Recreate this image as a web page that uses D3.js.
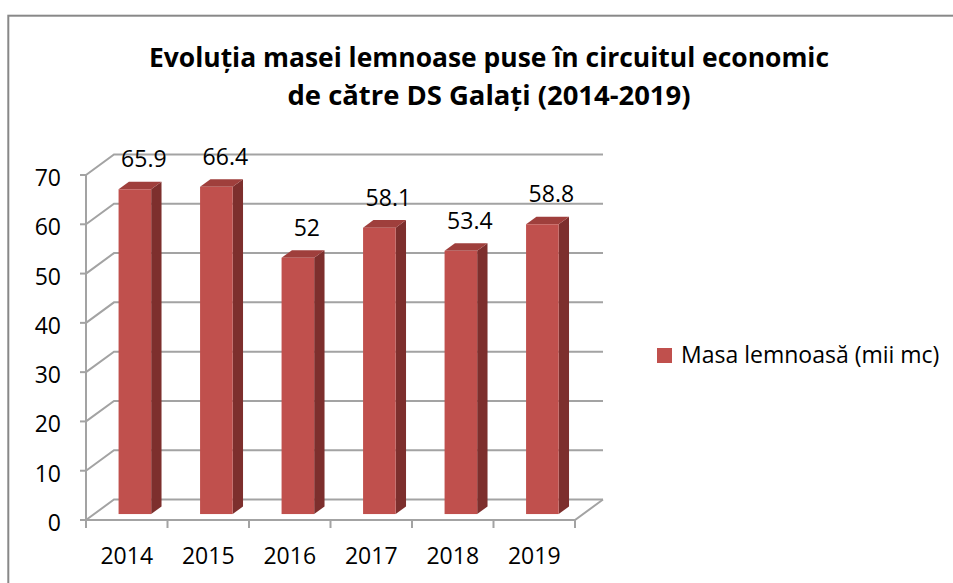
<!DOCTYPE html>
<html>
<head>
<meta charset="utf-8">
<script src="https://cdn.jsdelivr.net/npm/d3@7"></script>
<style>
body { margin: 0; background: #fff; }
text { font-family: "Open Sans", sans-serif; fill: #000; }
</style>
</head>
<body>
<div id="chart_area"></div>
<script>
// data
var years = ["2014", "2015", "2016", "2017", "2018", "2019"];
var values = [65.9, 66.4, 52, 58.1, 53.4, 58.8];
var yTicks = [0, 10, 20, 30, 40, 50, 60, 70];
var titleLines = ["Evoluția masei lemnoase puse în circuitul economic", "de către DS Galați (2014-2019)"];
var seriesName = "Masa lemnoasă (mii mc)";

// sizes
var frame_width = 953;
var frame_height = 583;
var plot = {left: 86, right: 575, top: 175, bottom: 520};
var depth = {dx: 28, dy: -20.5};   // 3d offset of the back wall
var barShift = 0.29;               // where the bar front sits inside the depth
var barDepth = 0.37;               // how deep the bar is
var gridColor = "#a3a3a3";
var barFront = "#c0504d", barSide = "#7d2f2d", barTop = "#9f3f3c";

var svg = d3.select("#chart_area").append("svg")
	.attr("width", frame_width)
	.attr("height", frame_height);

// chart border
svg.append("rect")
	.attr("x", 8.3).attr("y", 15.7)
	.attr("width", 970).attr("height", 600)
	.attr("fill", "none")
	.attr("stroke", "#888")
	.attr("stroke-width", 2);

// scales
var xScale = d3.scaleBand().domain(years).range([plot.left, plot.right]);
var yScale = d3.scaleLinear().domain([0, 70]).range([plot.bottom, plot.top]);
var band = xScale.bandwidth();

var line = d3.line();

// gridlines (side wall diagonal + back wall line)
var grid = svg.append("g").attr("fill", "none").attr("stroke", gridColor).attr("stroke-width", 2);
yTicks.forEach(function(t) {
	var y = yScale(t);
	grid.append("path").attr("d", line([
		[plot.left, y],
		[plot.left + depth.dx, y + depth.dy],
		[plot.right + depth.dx, y + depth.dy]
	]));
});
// floor front edge
grid.append("path").attr("d", line([
	[plot.left, plot.bottom],
	[plot.right, plot.bottom],
	[plot.right + depth.dx, plot.bottom + depth.dy]
]));
// vertical axis
grid.append("path").attr("d", line([[plot.left, yScale(0)], [plot.left, yScale(70)]]));

// tick marks
yTicks.forEach(function(t) {
	grid.append("path").attr("d", line([[plot.left - 6, yScale(t)], [plot.left, yScale(t)]]));
});
var bounds = years.map(function(d) { return xScale(d); }).concat([plot.right]);
bounds.forEach(function(bx) {
	grid.append("path").attr("d", line([[bx, plot.bottom], [bx, plot.bottom + 8]]));
});

// y labels
svg.append("g").selectAll("text")
	.data(yTicks).enter().append("text")
	.attr("x", 61)
	.attr("y", function(d) { return yScale(d) + 11; })
	.attr("text-anchor", "end")
	.style("font-size", "23px")
	.text(function(d) { return d; });

// category labels
svg.append("g").selectAll("text")
	.data(years).enter().append("text")
	.attr("x", function(d) { return xScale(d) + band / 2; })
	.attr("y", 564)
	.attr("text-anchor", "middle")
	.style("font-size", "23px")
	.text(function(d) { return d; });

// bars drawn as 3 faces
var barW = band * 0.4;
var bars = svg.append("g").selectAll("g")
	.data(years.map(function(y, i) { return {year: y, value: values[i]}; }))
	.enter().append("g");

function geom(d) {
	var cx = xScale(d.year) + band / 2 + barShift * depth.dx;
	var l = cx - barW / 2, r = cx + barW / 2;
	var bottom = yScale(0) + barShift * depth.dy;
	var top = yScale(d.value) + barShift * depth.dy;
	return {l: l, r: r, top: top, bottom: bottom, cx: cx,
		ox: barDepth * depth.dx, oy: barDepth * depth.dy};
}

bars.append("path")
	.attr("fill", barSide)
	.attr("d", function(d) {
		var g = geom(d);
		return line([[g.r, g.top], [g.r + g.ox, g.top + g.oy], [g.r + g.ox, g.bottom + g.oy], [g.r, g.bottom]]) + "Z";
	});
bars.append("path")
	.attr("fill", barTop)
	.attr("d", function(d) {
		var g = geom(d);
		return line([[g.l, g.top], [g.l + g.ox, g.top + g.oy], [g.r + g.ox, g.top + g.oy], [g.r, g.top]]) + "Z";
	});
bars.append("rect")
	.attr("fill", barFront)
	.attr("x", function(d) { return geom(d).l; })
	.attr("y", function(d) { return geom(d).top; })
	.attr("width", barW)
	.attr("height", function(d) { var g = geom(d); return g.bottom - g.top; });

// value labels
bars.append("text")
	.attr("x", function(d) { return geom(d).cx + 9; })
	.attr("y", function(d) { return geom(d).top - 22; })
	.attr("text-anchor", "middle")
	.style("font-size", "23px")
	.text(function(d) { return d.value; });

// title, squeezed to the width of the original lines
var titleWidths = [680, 403];
svg.append("g").selectAll("text")
	.data(titleLines).enter().append("text")
	.attr("x", 489)
	.attr("y", function(d, i) { return 66.5 + i * 38.5; })
	.attr("text-anchor", "middle")
	.style("font-size", "26px")
	.style("font-weight", "bold")
	.text(function(d) { return d; })
	.each(function(d, i) {
		var len = this.getComputedTextLength();
		if (Math.abs(len - titleWidths[i]) > 4) {
			d3.select(this).attr("textLength", titleWidths[i]).attr("lengthAdjust", "spacingAndGlyphs");
		}
	});

// legend
svg.append("rect")
	.attr("x", 657).attr("y", 348)
	.attr("width", 15).attr("height", 15)
	.attr("fill", barFront);
svg.append("text")
	.attr("x", 681).attr("y", 363)
	.style("font-size", "23px")
	.text(seriesName);
</script>
</body>
</html>
